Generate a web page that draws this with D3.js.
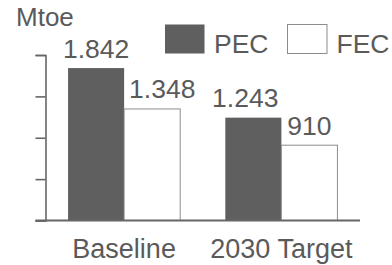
<!DOCTYPE html>
<html>
<head>
<meta charset="utf-8">
<script src="https://cdn.jsdelivr.net/npm/d3@7"></script>
<style>
  body { margin: 0; background: #fff; }
  text { font-family: "Liberation Sans", Arial, sans-serif; fill: #5a5a5a; }
</style>
</head>
<body>
<div id="chart-container"></div>
<script>
// DATA
const categories = ["Baseline", "2030 Target"];
const series = ["PEC", "FEC"];
const pecValues = [1842, 1243];
const fecValues = [1348, 910];
const pecLabels = ["1.842", "1.243"];
const fecLabels = ["1.348", "910"];
const yTicks = [0, 500, 1000, 1500, 2000];
const unitLabel = "Mtoe";

const width = 392,
  height = 265,
  margin = { top: 55, bottom: 44.5, left: 45.5, right: 32 };

const rows = categories.map((c, i) => ({
  category: c,
  values: [
    { key: "PEC", value: pecValues[i], label: pecLabels[i], gi: i },
    { key: "FEC", value: fecValues[i], label: fecLabels[i], gi: i },
  ],
}));

// SCALES
const x0 = d3
  .scaleBand()
  .domain(categories)
  .range([margin.left, width - margin.right])
  .paddingInner(0.287)
  .paddingOuter(0.1435);

const x1 = d3.scaleBand().domain(series).range([0, x0.bandwidth()]);

const yScale = d3
  .scaleLinear()
  .domain([0, 2000])
  .range([height - margin.bottom, margin.top]);

const color = { PEC: "#5f5f5f", FEC: "#ffffff" };

const svg = d3
  .select("#chart-container")
  .append("svg")
  .attr("width", width)
  .attr("height", height);

// bars
const groups = svg
  .selectAll(".group")
  .data(rows)
  .join("g")
  .attr("class", "group")
  .attr("transform", (d) => `translate(${x0(d.category)},0)`);

groups
  .selectAll("rect")
  .data((d) => d.values)
  .join("rect")
  .attr("x", (d) => x1(d.key))
  .attr("y", (d) => yScale(d.value))
  .attr("width", x1.bandwidth())
  .attr("height", (d) => yScale(0) - yScale(d.value))
  .attr("fill", (d) => color[d.key])
  .attr("stroke", (d) => (d.key === "FEC" ? "#8c8c8c" : "none"))
  .attr("stroke-width", 1);

// value labels (two are nudged sideways like in the original)
groups
  .selectAll(".val")
  .data((d) => d.values)
  .join("text")
  .attr("class", "val")
  .attr("font-size", 26.5)
  .attr("y", (d) => yScale(d.value) - 10.5)
  .attr("x", (d) => {
    if (d.gi === 0 && d.key === "FEC") return x1(d.key) + 5;
    if (d.gi === 1 && d.key === "PEC") return x1(d.key) + x1.bandwidth() - 3;
    return x1(d.key) + x1.bandwidth() / 2;
  })
  .attr("text-anchor", (d) => {
    if (d.gi === 0 && d.key === "FEC") return "start";
    if (d.gi === 1 && d.key === "PEC") return "end";
    return "middle";
  })
  .text((d) => d.label);

// y axis
const yAxis = d3
  .axisLeft(yScale)
  .tickValues(yTicks)
  .tickSize(10)
  .tickFormat("");

svg
  .append("g")
  .attr("class", "axis y-axis")
  .attr("transform", `translate(${margin.left},0)`)
  .call(yAxis)
  .call((g) => g.selectAll("line, path").attr("stroke", "#666").attr("stroke-width", 1.6));

// x axis line
svg
  .append("line")
  .attr("x1", margin.left - 10)
  .attr("x2", width - margin.right)
  .attr("y1", yScale(0))
  .attr("y2", yScale(0))
  .attr("stroke", "#666")
  .attr("stroke-width", 1.8);

// category labels
svg
  .selectAll(".cat")
  .data(categories)
  .join("text")
  .attr("class", "cat")
  .attr("font-size", 27)
  .attr("text-anchor", "middle")
  .attr("x", (d) => x0(d) + x0.bandwidth() / 2)
  .attr("y", 257.5)
  .text((d) => d);

// unit label
svg
  .append("text")
  .attr("font-size", 26)
  .attr("x", 16)
  .attr("y", 26)
  .text(unitLabel);

// legend
const legend = svg
  .selectAll(".legend")
  .data(series)
  .join("g")
  .attr("class", "legend")
  .attr("transform", (d, i) => `translate(${165 + i * 122.5},24.5)`);

legend
  .append("rect")
  .attr("width", 39.5)
  .attr("height", 29)
  .attr("fill", (d) => color[d])
  .attr("stroke", (d) => (d === "FEC" ? "#8c8c8c" : "none"));

legend
  .append("text")
  .attr("font-size", 26.5)
  .attr("x", 49)
  .attr("y", 28.5)
  .text((d) => d);
</script>
</body>
</html>
